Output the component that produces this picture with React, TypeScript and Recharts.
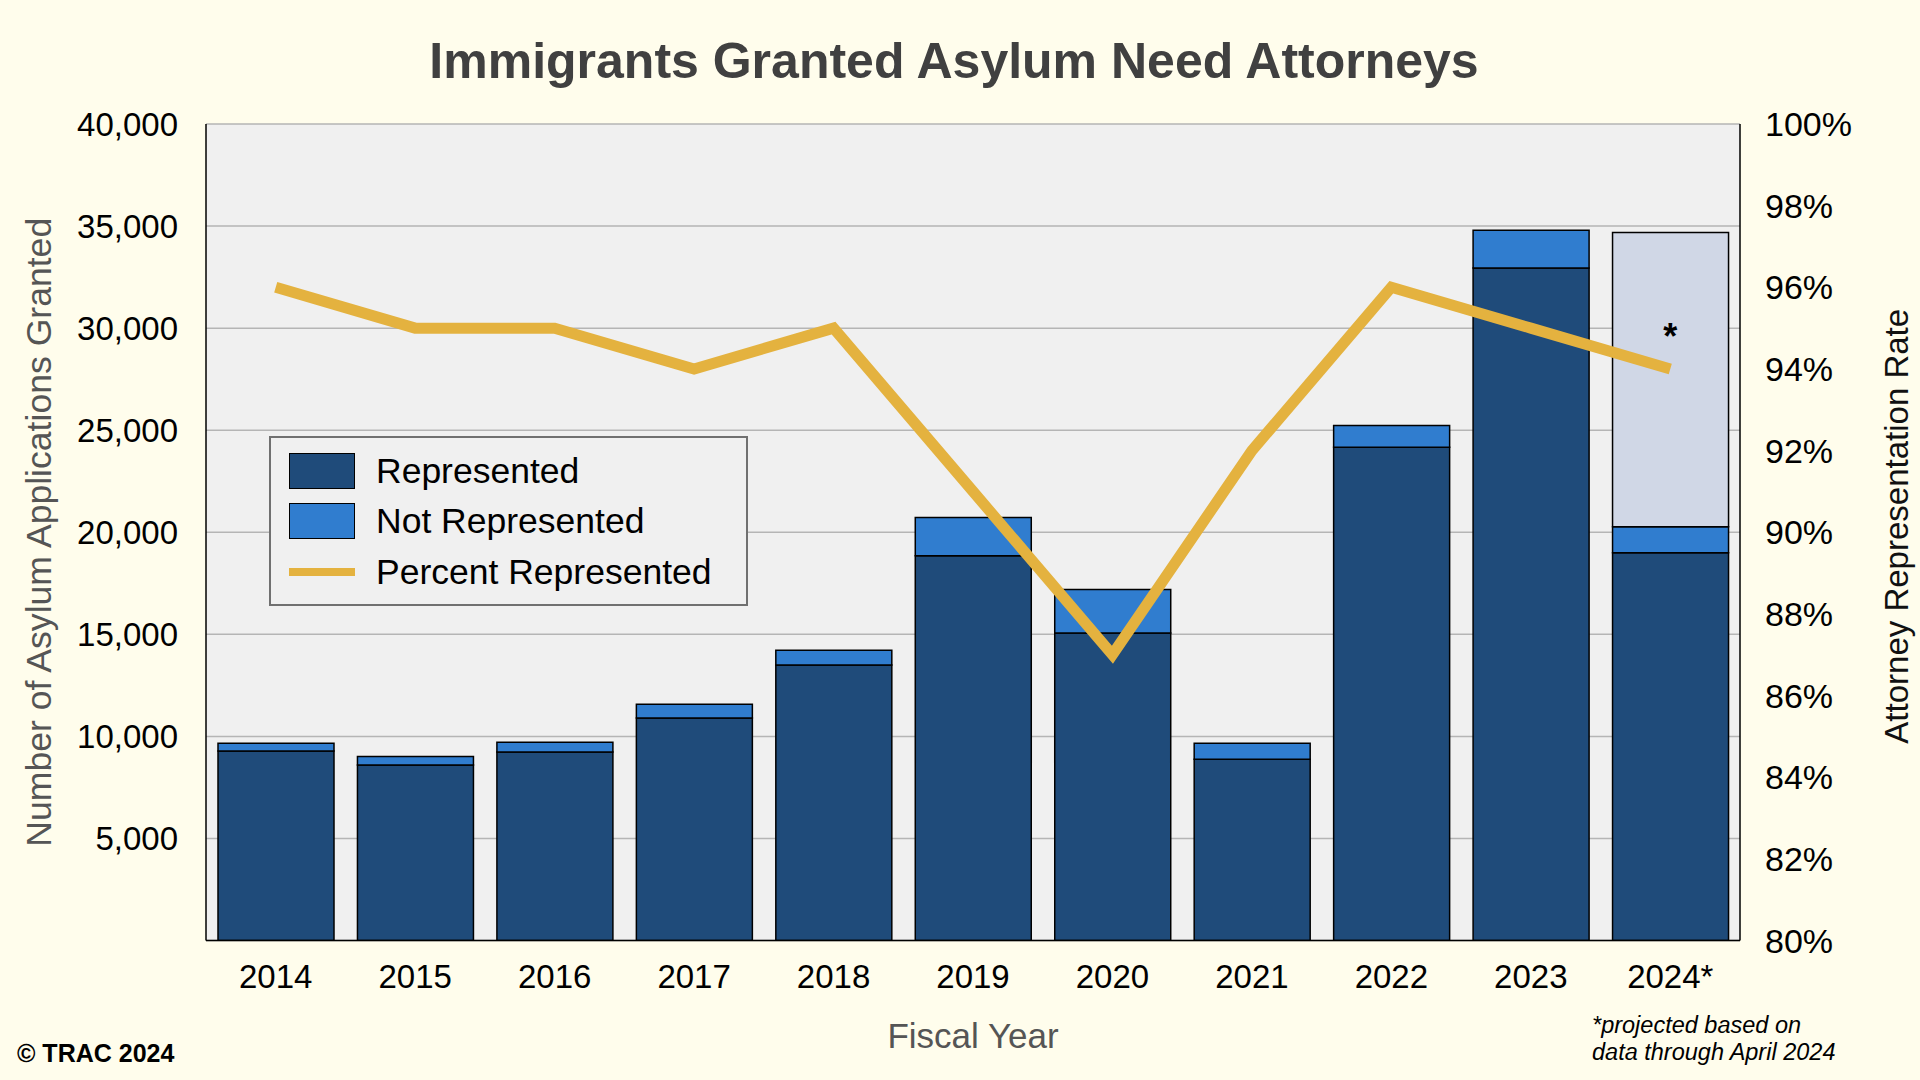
import React from 'react';
import {
  ComposedChart,
  Bar,
  Line,
  XAxis,
  YAxis,
  CartesianGrid,
  Legend,
  ReferenceDot,
  Label,
} from 'recharts';

// ---------- data ----------
const fiscalYears = ['2014', '2015', '2016', '2017', '2018', '2019', '2020', '2021', '2022', '2023', '2024*'];
const representedValues = [9280, 8600, 9230, 10900, 13500, 18850, 15070, 8880, 24170, 32950, 19000];
const notRepresentedValues = [380, 420, 480, 670, 720, 1870, 2130, 780, 1060, 1840, 1270];
const projectedValues: (number | null)[] = [null, null, null, null, null, null, null, null, null, null, 14410];
const percentRepresentedValues = [96, 95, 95, 94, 95, 91, 87, 92, 96, 95, 94];
const countTicks = [0, 5000, 10000, 15000, 20000, 25000, 30000, 35000, 40000];
const rateTicks = [80, 82, 84, 86, 88, 90, 92, 94, 96, 98, 100];
const projectedMarkerYear = '2024*';
const projectedMarkerValue = 30000;

const chartData = fiscalYears.map((year, i) => ({
  year,
  represented: representedValues[i],
  notRepresented: notRepresentedValues[i],
  projected: projectedValues[i],
  pct: percentRepresentedValues[i],
}));

// ---------- styles ----------
const FONT = '"Liberation Sans", Arial, Helvetica, sans-serif';
const PAGE_BG = '#FFFDEC';
const PLOT_BG = '#F0F0F0';
const REP = '#1F4B7A';
const NOT_REP = '#307DCF';
const PROJ = '#D0D7E6';
const LINE = '#E4B23F';
const GRID = '#B5B5B5';

const legendItems = [
  { label: 'Represented', kind: 'rect', color: REP },
  { label: 'Not Represented', kind: 'rect', color: NOT_REP },
  { label: 'Percent Represented', kind: 'line', color: LINE },
];
const legendRowCenters = [35, 85, 135.5];

const LegendBox = () => (
  <div
    style={{
      position: 'relative',
      width: 479,
      height: 170,
      boxSizing: 'border-box',
      border: '2px solid #707070',
      background: PLOT_BG,
      fontFamily: FONT,
    }}
  >
    {legendItems.map((item, i) => (
      <div key={item.label}>
        {item.kind === 'rect' ? (
          <div
            style={{
              position: 'absolute',
              left: 18,
              top: legendRowCenters[i] - 18 - 2,
              width: 66,
              height: 36,
              boxSizing: 'border-box',
              background: item.color,
              border: '1.5px solid #000',
            }}
          />
        ) : (
          <div
            style={{
              position: 'absolute',
              left: 18,
              top: legendRowCenters[i] - 4 - 2,
              width: 66,
              height: 8.5,
              background: item.color,
            }}
          />
        )}
        <div
          style={{
            position: 'absolute',
            left: 105,
            top: legendRowCenters[i] - 22 - 2,
            height: 44,
            lineHeight: '44px',
            fontSize: 35.5,
            color: '#000',
            whiteSpace: 'nowrap',
          }}
        >
          {item.label}
        </div>
      </div>
    ))}
  </div>
);

const LeftTitle = (props: any) => {
  const { viewBox } = props;
  const cx = 38.5;
  const cy = viewBox.y + viewBox.height / 2;
  return (
    <text
      x={cx}
      y={cy}
      transform={`rotate(-90 ${cx} ${cy})`}
      textAnchor="middle"
      dominantBaseline="central"
      fontFamily={FONT}
      fontSize={35.6}
      fill="#555555"
    >
      Number of Asylum Applications Granted
    </text>
  );
};

const RightTitle = (props: any) => {
  const { viewBox } = props;
  const cx = viewBox.x + 156;
  const cy = viewBox.y + viewBox.height / 2 - 6;
  return (
    <text
      x={cx}
      y={cy}
      transform={`rotate(-90 ${cx} ${cy})`}
      textAnchor="middle"
      dominantBaseline="central"
      fontFamily={FONT}
      fontSize={33}
      fill="#111111"
    >
      Attorney Representation Rate
    </text>
  );
};

const BottomTitle = (props: any) => {
  const { viewBox } = props;
  return (
    <text
      x={viewBox.x + viewBox.width / 2}
      y={viewBox.y + 95}
      textAnchor="middle"
      dominantBaseline="central"
      fontFamily={FONT}
      fontSize={35}
      fill="#555555"
    >
      Fiscal Year
    </text>
  );
};

const AsteriskLabel = (props: any) => {
  const { viewBox } = props;
  const x = viewBox.x + (viewBox.width || 0) / 2;
  const y = viewBox.y + (viewBox.height || 0) / 2;
  return (
    <text x={x} y={y + 8} textAnchor="middle" dominantBaseline="central" fontFamily={FONT} fontSize={36} fontWeight="bold" fill="#000">
      *
    </text>
  );
};

const tickStyle = { fontFamily: FONT, fontSize: 33, fill: '#000' };

export default function App() {
  return (
    <div
      style={{
        position: 'absolute',
        left: 0,
        top: 0,
        width: 1920,
        height: 1080,
        background: PAGE_BG,
        fontFamily: FONT,
        overflow: 'hidden',
      }}
    >
      <div
        style={{
          position: 'absolute',
          left: 0,
          width: 1908,
          top: 61 - 30,
          height: 60,
          lineHeight: '60px',
          textAlign: 'center',
          fontSize: 50,
          fontWeight: 'bold',
          color: '#404040',
        }}
      >
        Immigrants Granted Asylum Need Attorneys
      </div>

      <ComposedChart
        width={1920}
        height={1080}
        data={chartData}
        margin={{ top: 124, right: 0, bottom: 0, left: 0 }}
        style={{ position: 'absolute', left: 0, top: 0 }}
      >
        <CartesianGrid
          yAxisId="left"
          vertical={false}
          fill={PLOT_BG}
          stroke={GRID}
          strokeWidth={1.5}
        />
        <XAxis
          dataKey="year"
          height={139.5}
          tickLine={false}
          tickSize={0}
          tickMargin={24}
          axisLine={{ stroke: '#000', strokeWidth: 1.5 }}
          tick={tickStyle}
          interval={0}
        >
          <Label content={<BottomTitle />} />
        </XAxis>
        <XAxis
          xAxisId="top"
          dataKey="year"
          orientation="top"
          height={0}
          tick={false}
          tickLine={false}
          axisLine={{ stroke: '#000', strokeWidth: 1.5 }}
        />
        <YAxis
          yAxisId="left"
          width={206}
          domain={[0, 40000]}
          ticks={countTicks}
          tickLine={false}
          tickSize={0}
          tickMargin={28}
          axisLine={{ stroke: '#000', strokeWidth: 1.5 }}
          tick={tickStyle}
          tickFormatter={(v: number) => (v === 0 ? '' : v.toLocaleString('en-US'))}
          allowDataOverflow
        >
          <Label content={<LeftTitle />} />
        </YAxis>
        <YAxis
          yAxisId="right"
          orientation="right"
          width={180}
          domain={[80, 100]}
          ticks={rateTicks}
          tickLine={false}
          tickSize={0}
          tickMargin={25}
          axisLine={{ stroke: '#000', strokeWidth: 1.5 }}
          tick={{ ...tickStyle, fontSize: 34, textAnchor: 'start' }}
          tickFormatter={(v: number) => `${v}%`}
          allowDataOverflow
        >
          <Label content={<RightTitle />} />
        </YAxis>

        <Legend
          layout="vertical"
          align="center"
          verticalAlign="middle"
          content={<LegendBox />}
          wrapperStyle={{ left: 269, top: 436, width: 479, height: 170, margin: 0, padding: 0 }}
        />

        <Bar
          yAxisId="left"
          dataKey="represented"
          stackId="s"
          fill={REP}
          stroke="#000"
          strokeWidth={1.5}
          barSize={116}
          isAnimationActive={false}
          legendType="none"
        />
        <Bar
          yAxisId="left"
          dataKey="notRepresented"
          stackId="s"
          fill={NOT_REP}
          stroke="#000"
          strokeWidth={1.5}
          barSize={116}
          isAnimationActive={false}
          legendType="none"
        />
        <Bar
          yAxisId="left"
          dataKey="projected"
          stackId="s"
          fill={PROJ}
          stroke="#000"
          strokeWidth={1.5}
          barSize={116}
          isAnimationActive={false}
          legendType="none"
        />
        <Line
          yAxisId="right"
          type="linear"
          dataKey="pct"
          stroke={LINE}
          strokeWidth={11}
          dot={false}
          activeDot={false}
          isAnimationActive={false}
          legendType="none"
        />
        <ReferenceDot
          yAxisId="left"
          x={projectedMarkerYear}
          y={projectedMarkerValue}
          r={0}
          fill="none"
          stroke="none"
          label={<AsteriskLabel />}
        />
      </ComposedChart>

      <div
        style={{
          position: 'absolute',
          left: 17,
          top: 1053 - 14,
          height: 28,
          lineHeight: '28px',
          fontSize: 25,
          fontWeight: 'bold',
          color: '#000',
          whiteSpace: 'nowrap',
        }}
      >
        © TRAC 2024
      </div>
      <div
        style={{
          position: 'absolute',
          left: 1592,
          top: 1026 - 14,
          lineHeight: '27px',
          fontSize: 23.5,
          fontStyle: 'italic',
          color: '#000',
          whiteSpace: 'nowrap',
        }}
      >
        <div>*projected based on</div>
        <div>data through April 2024</div>
      </div>
    </div>
  );
}
